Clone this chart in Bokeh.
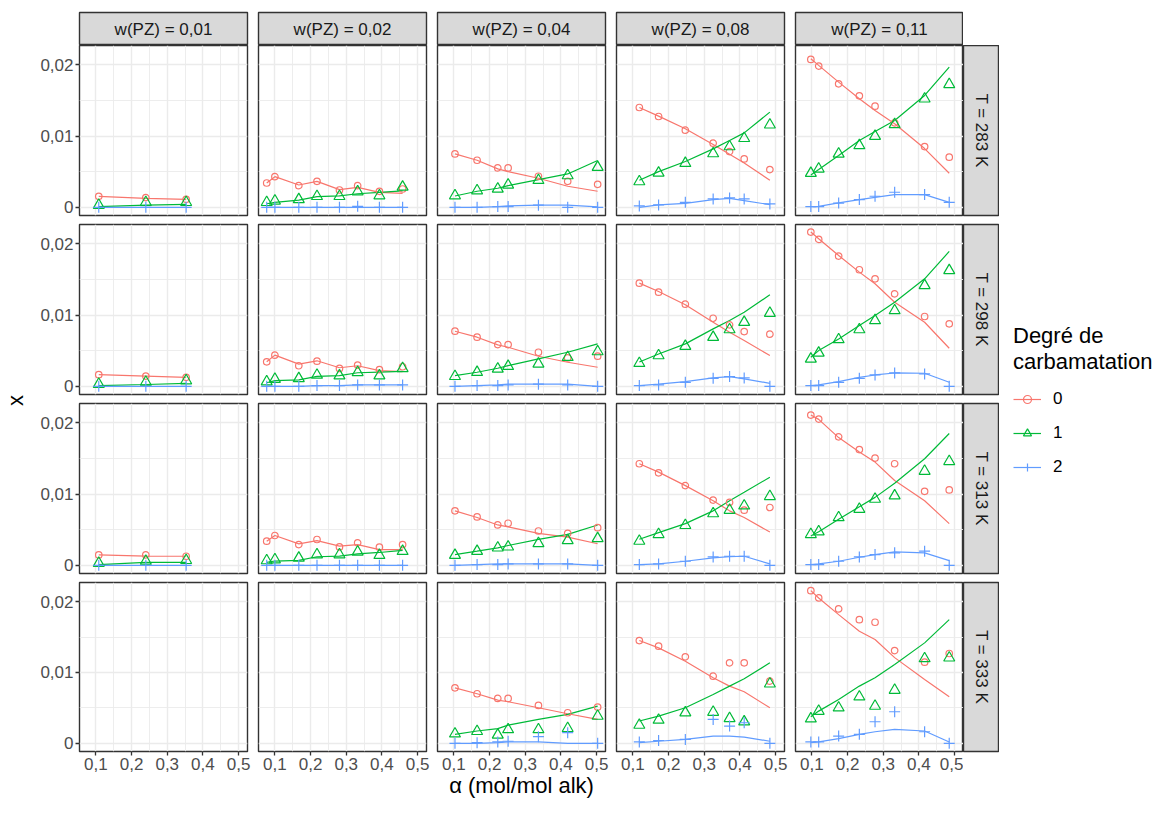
import math
from bokeh.plotting import figure
from bokeh.models import (Range1d, FixedTicker, CustomJSTickFormatter, Label, Legend,
                          LegendItem, LinearAxis, Grid, Spacer)
from bokeh.layouts import row, column
from bokeh.embed import file_html
from bokeh.resources import INLINE

# ---------------- data ----------------
w_labels = ["w(PZ) = 0,01", "w(PZ) = 0,02", "w(PZ) = 0,04", "w(PZ) = 0,08", "w(PZ) = 0,11"]
T_labels = ["T = 283 K", "T = 298 K", "T = 313 K", "T = 333 K"]
degree_labels = ["0", "1", "2"]
x_ticks = [0.1, 0.2, 0.3, 0.4, 0.5]
x_minor = [0.15, 0.25, 0.35, 0.45]
y_ticks = [0.0, 0.01, 0.02]
y_minor = [0.005, 0.015]

# loading alpha (mol/mol alk) for each w(PZ) column
alpha_001 = [0.108, 0.240, 0.353]
alpha_002 = [0.077, 0.100, 0.167, 0.218, 0.281, 0.332, 0.393, 0.458]
alpha_004 = [0.103, 0.165, 0.223, 0.252, 0.337, 0.419, 0.503]
alpha_008 = [0.118, 0.172, 0.247, 0.325, 0.371, 0.412, 0.484]
alpha_011 = [0.097, 0.119, 0.175, 0.233, 0.277, 0.332, 0.416, 0.485]

# obsN = measured mole fraction, modN = model, N = degree of carbamation
T283_w001 = dict(
    obs0=[0.00154, 0.00136, 0.00112], obs1=[0.0003, 0.0007, 0.0007], obs2=[0.0, 0.0, 0.0],
    mod0=[0.00154, 0.00126, 0.00112], mod1=[0.0001, 0.0003, 0.0004], mod2=[0.0, 0.0, 0.0])
T283_w002 = dict(
    obs0=[0.00341, 0.0043, 0.00304, 0.00364, 0.00243, 0.00304, 0.00224, 0.00257],
    obs1=[0.0007, 0.0009, 0.0011, 0.00154, 0.00154, 0.0022, 0.00164, 0.00285],
    obs2=[0.0, 0.0, 0.0, 0.0, 0.0, 0.00014, 0.0, 0.0],
    mod0=[0.00341, 0.0043, 0.00313, 0.00364, 0.00248, 0.0028, 0.0021, 0.00196],
    mod1=[0.0005, 0.0007, 0.001, 0.0015, 0.0016, 0.0019, 0.0021, 0.0023],
    mod2=[0.0, 0.0, 0.0, 0.0, 0.0, 0.0, 0.0, 0.0])
T283_w004 = dict(
    obs0=[0.00749, 0.0066, 0.00553, 0.00553, 0.00436, 0.00365, 0.00323],
    obs1=[0.00164, 0.00234, 0.00258, 0.00314, 0.00379, 0.00445, 0.00562],
    obs2=[0.0, 0.0, 0.0001, 0.0001, 0.0003, 0.0, 0.0],
    mod0=[0.00749, 0.0066, 0.00539, 0.00501, 0.00408, 0.00295, 0.00225],
    mod1=[0.00159, 0.00225, 0.00267, 0.00304, 0.00389, 0.00468, 0.00656],
    mod2=[0.0, 0.0, 0.0001, 0.0002, 0.0003, 0.0003, 0.00005])
T283_w008 = dict(
    obs0=[0.0140, 0.01274, 0.01082, 0.00899, 0.00782, 0.00679, 0.00529],
    obs1=[0.00361, 0.00482, 0.00618, 0.00754, 0.00852, 0.00968, 0.01157],
    obs2=[0.0002, 0.00033, 0.0007, 0.00117, 0.00131, 0.00117, 0.00047],
    mod0=[0.0140, 0.01279, 0.01101, 0.0088, 0.00745, 0.00623, 0.00379],
    mod1=[0.0038, 0.00501, 0.00642, 0.0082, 0.00937, 0.01044, 0.01335],
    mod2=[0.0, 0.00033, 0.00056, 0.00108, 0.00126, 0.00094, 0.00037])
T283_w011 = dict(
    obs0=[0.02075, 0.01981, 0.01733, 0.01564, 0.01419, 0.01185, 0.00852, 0.00703],
    obs1=[0.00478, 0.00539, 0.00749, 0.00867, 0.00998, 0.01162, 0.01522, 0.01724],
    obs2=[0.0001, 0.0001, 0.0006, 0.00108, 0.00155, 0.00211, 0.00178, 0.0007],
    mod0=[0.02084, 0.01991, 0.01756, 0.01522, 0.01358, 0.01171, 0.00824, 0.00478],
    mod1=[0.00454, 0.00529, 0.00726, 0.00937, 0.01063, 0.01218, 0.01569, 0.01967],
    mod2=[0.0001, 0.00014, 0.00061, 0.00108, 0.0014, 0.00178, 0.00178, 0.0007])

T298_w001 = dict(
    obs0=[0.00163, 0.00144, 0.00126], obs1=[0.0003, 0.0006, 0.0008], obs2=[0.0, 0.0, 0.0],
    mod0=[0.00163, 0.00144, 0.00126], mod1=[0.0001, 0.00025, 0.0004], mod2=[0.0, 0.0, 0.0])
T298_w002 = dict(
    obs0=[0.00344, 0.00437, 0.00288, 0.00353, 0.00251, 0.00298, 0.00233, 0.00274],
    obs1=[0.00065, 0.001, 0.0011, 0.00158, 0.00149, 0.00195, 0.00149, 0.00251],
    obs2=[0.0, 0.0, 0.0, 0.0001, 0.0001, 0.0002, 0.0002, 0.0002],
    mod0=[0.00344, 0.00437, 0.00312, 0.00358, 0.0026, 0.00288, 0.00219, 0.00205],
    mod1=[0.0005, 0.0008, 0.0009, 0.0014, 0.0015, 0.0019, 0.002, 0.0021],
    mod2=[0.0, 0.0, 0.0, 0.0001, 0.0001, 0.0002, 0.0002, 0.0002])
T298_w004 = dict(
    obs0=[0.00773, 0.00689, 0.00585, 0.00585, 0.00478, 0.00398, 0.00422],
    obs1=[0.0014, 0.00197, 0.00244, 0.00281, 0.00314, 0.00407, 0.00487],
    obs2=[0.0, 0.0001, 0.0001, 0.0002, 0.0003, 0.0002, 0.0],
    mod0=[0.00773, 0.00689, 0.00581, 0.00548, 0.00422, 0.00337, 0.00267],
    mod1=[0.0015, 0.00197, 0.00253, 0.0029, 0.00384, 0.00478, 0.00595],
    mod2=[0.0, 0.0001, 0.0002, 0.0003, 0.0003, 0.0003, 0.0])
T298_w008 = dict(
    obs0=[0.01447, 0.01321, 0.01152, 0.00955, 0.00862, 0.00768, 0.00731],
    obs1=[0.00323, 0.00431, 0.00562, 0.00689, 0.00796, 0.00899, 0.01026],
    obs2=[0.0001, 0.0002, 0.00056, 0.00112, 0.00136, 0.00117, 0.0],
    mod0=[0.01447, 0.0133, 0.01143, 0.00899, 0.00759, 0.00642, 0.00431],
    mod1=[0.0034, 0.00454, 0.00595, 0.00806, 0.00923, 0.0104, 0.01283],
    mod2=[0.0001, 0.0003, 0.00066, 0.00117, 0.00136, 0.00103, 0.00042])
T298_w011 = dict(
    obs0=[0.02164, 0.02061, 0.01827, 0.01635, 0.01508, 0.01297, 0.00979, 0.00876],
    obs1=[0.00384, 0.00468, 0.00656, 0.00796, 0.00923, 0.01063, 0.01415, 0.01625],
    obs2=[0.0001, 0.0001, 0.00056, 0.00112, 0.00159, 0.00187, 0.00173, 0.0],
    mod0=[0.02164, 0.0207, 0.01836, 0.01602, 0.01438, 0.0118, 0.00899, 0.00534],
    mod1=[0.00407, 0.00501, 0.00665, 0.00852, 0.00993, 0.0118, 0.01508, 0.01892],
    mod2=[0.0001, 0.0002, 0.00066, 0.00126, 0.00159, 0.00187, 0.00183, 0.00056])

T313_w001 = dict(
    obs0=[0.00146, 0.00146, 0.00127], obs1=[0.0003, 0.0006, 0.0007], obs2=[0.0, 0.0, 0.0],
    mod0=[0.00146, 0.0013, 0.00127], mod1=[0.0001, 0.0004, 0.0004], mod2=[0.0, 0.0, 0.0])
T313_w002 = dict(
    obs0=[0.00338, 0.00418, 0.00291, 0.00362, 0.00258, 0.00315, 0.00254, 0.00291],
    obs1=[0.00066, 0.0008, 0.00103, 0.0015, 0.0015, 0.00188, 0.00141, 0.00197],
    obs2=[0.0, 0.0, 0.0, 0.0, 0.0, 0.0, 0.0, 0.0],
    mod0=[0.00338, 0.00418, 0.003, 0.00347, 0.00268, 0.00291, 0.00221, 0.00221],
    mod1=[0.0004, 0.0006, 0.0007, 0.0012, 0.0013, 0.0016, 0.0018, 0.0021],
    mod2=[0.0, 0.0, 0.0, 0.0, 0.0, 0.0, 0.0, 0.0])
T313_w004 = dict(
    obs0=[0.00764, 0.00679, 0.00566, 0.0059, 0.00481, 0.00448, 0.00528],
    obs1=[0.00142, 0.00198, 0.00245, 0.00259, 0.00307, 0.00349, 0.00377],
    obs2=[0.0, 0.0001, 0.0001, 0.0002, 0.0002, 0.0002, 0.0],
    mod0=[0.00764, 0.0067, 0.00566, 0.00538, 0.00448, 0.00396, 0.00302],
    mod1=[0.00151, 0.00198, 0.00245, 0.00278, 0.00363, 0.00434, 0.00566],
    mod2=[0.0, 0.0001, 0.0002, 0.0002, 0.0002, 0.0002, 0.0])
T313_w008 = dict(
    obs0=[0.01425, 0.01297, 0.01118, 0.00915, 0.00882, 0.00774, 0.00811],
    obs1=[0.0034, 0.00434, 0.00561, 0.00726, 0.00774, 0.00835, 0.00967],
    obs2=[0.0001, 0.0002, 0.00057, 0.00118, 0.00127, 0.00127, 0.0],
    mod0=[0.01425, 0.01307, 0.01118, 0.00906, 0.00764, 0.0067, 0.00467],
    mod1=[0.00365, 0.00458, 0.00585, 0.00764, 0.00906, 0.01024, 0.01236],
    mod2=[0.0001, 0.0002, 0.00057, 0.00104, 0.00123, 0.00127, 0.0002])
T313_w011 = dict(
    obs0=[0.02108, 0.02052, 0.01802, 0.01623, 0.01505, 0.01425, 0.01038, 0.01057],
    obs1=[0.00434, 0.00472, 0.0067, 0.00788, 0.00929, 0.00976, 0.01321, 0.01458],
    obs2=[0.0001, 0.0001, 0.00057, 0.00118, 0.00151, 0.00175, 0.00198, 0.0],
    mod0=[0.02108, 0.02047, 0.01792, 0.0159, 0.01448, 0.01189, 0.00906, 0.00585],
    mod1=[0.0041, 0.00472, 0.00646, 0.00821, 0.00953, 0.01151, 0.01495, 0.01849],
    mod2=[0.0001, 0.0002, 0.00057, 0.00113, 0.00151, 0.00189, 0.00175, 0.00066])

T333_w004 = dict(
    obs0=[0.00784, 0.007, 0.00634, 0.00634, 0.00535, 0.00432, 0.00512],
    obs1=[0.00135, 0.0017, 0.00118, 0.00195, 0.00195, 0.00212, 0.00385],
    obs2=[0.0, 0.0001, 0.0002, 0.0003, 0.00094, 0.0015, 0.0],
    mod0=[0.00784, 0.007, 0.0061, 0.00587, 0.00502, 0.00418, 0.00338],
    mod1=[0.00127, 0.00174, 0.00207, 0.00258, 0.00338, 0.00408, 0.00526],
    mod2=[0.0, 0.0, 0.0001, 0.0002, 0.0002, 0.0, 0.0])
T333_w008 = dict(
    obs0=[0.01451, 0.01371, 0.01221, 0.00948, 0.01136, 0.01136, 0.00878],
    obs1=[0.00258, 0.00329, 0.00432, 0.00441, 0.00352, 0.00305, 0.0084],
    obs2=[0.0002, 0.0004, 0.00056, 0.00338, 0.00244, 0.00291, 0.0],
    mod0=[0.01451, 0.01347, 0.01159, 0.00925, 0.00808, 0.00728, 0.00502],
    mod1=[0.00315, 0.00385, 0.00502, 0.0069, 0.00808, 0.00911, 0.01136],
    mod2=[0.0001, 0.0003, 0.00056, 0.00103, 0.00103, 0.00089, 0.0003])
T333_w011 = dict(
    obs0=[0.02155, 0.02052, 0.01897, 0.01746, 0.01709, 0.0131, 0.01146, 0.01268],
    obs1=[0.00347, 0.00455, 0.00502, 0.00657, 0.00526, 0.00751, 0.01197, 0.01207],
    obs2=[0.0002, 0.0002, 0.00103, 0.00127, 0.00305, 0.00446, 0.00164, 0.0],
    mod0=[0.02155, 0.02052, 0.01817, 0.01582, 0.01465, 0.0121, 0.00901, 0.00657],
    mod1=[0.00376, 0.00455, 0.0062, 0.00808, 0.00925, 0.01113, 0.01418, 0.01746],
    mod2=[0.0001, 0.0002, 0.00066, 0.00127, 0.00164, 0.00197, 0.00174, 0.0002])

alphas = [alpha_001, alpha_002, alpha_004, alpha_008, alpha_011]
panel_data = [
    [T283_w001, T283_w002, T283_w004, T283_w008, T283_w011],
    [T298_w001, T298_w002, T298_w004, T298_w008, T298_w011],
    [T313_w001, T313_w002, T313_w004, T313_w008, T313_w011],
    [None, None, T333_w004, T333_w008, T333_w011],
]

# ---------------- style / layout ----------------
FONT = "Liberation Sans"
COLORS = ["#F8766D", "#00BA38", "#619CFF"]
MARKERS = ["circle", "triangle", "cross"]
SIZES = [6.5, 11, 11]
GRID = "#EBEBEB"
DARK = "#333333"
STRIP = "#D9D9D9"

FW, FH = 168, 170
YLAB_W = 30
col_mbl = [49, 6, 6, 6, 6]
col_mbr = [5, 5, 5, 5, 0]
row_mbt = [0, 5, 5, 5]
row_mbb = [4, 4, 4, 48]
TOP_H, TOP_MBT = 45, 12
STRIP_W = 36
LEG_W = 157
TOTAL_H = TOP_H + sum(row_mbt[i] + FH + row_mbb[i] for i in range(4))
XR = (0.054, 0.525)
YR = (-0.00115, 0.0227)

x_fmt = "return tick.toFixed(1).replace('.', ',');"
y_fmt = "return Math.abs(tick) < 1e-12 ? '0' : tick.toFixed(2).replace('.', ',');"


def base_fig(w, h, mbl, mbr, mbt, mbb, **kw):
    return figure(width=w, height=h, min_border_left=mbl, min_border_right=mbr,
                  min_border_top=mbt, min_border_bottom=mbb,
                  x_axis_type=None, y_axis_type=None, toolbar_location=None,
                  output_backend="svg", border_fill_color="white", **kw)


def make_panel(ri, ci):
    mbl, mbr, mbt, mbb = col_mbl[ci], col_mbr[ci], row_mbt[ri], row_mbb[ri]
    p = base_fig(mbl + FW + mbr, mbt + FH + mbb, mbl, mbr, mbt, mbb,
                 x_range=Range1d(*XR), y_range=Range1d(*YR),
                 background_fill_color="white", outline_line_color=DARK,
                 outline_line_width=1.4)
    xt = FixedTicker(ticks=x_ticks, minor_ticks=x_minor)
    yt = FixedTicker(ticks=y_ticks, minor_ticks=y_minor)
    for dim, t in ((0, xt), (1, yt)):
        p.add_layout(Grid(dimension=dim, ticker=t, grid_line_color=GRID, grid_line_width=1.4,
                          minor_grid_line_color=GRID, minor_grid_line_width=0.9))
    axis_style = dict(axis_line_color=None, major_tick_line_color=DARK, major_tick_line_width=1.3,
                      major_tick_in=0, major_tick_out=4, minor_tick_line_color=None,
                      major_label_text_font=FONT, major_label_text_font_size="17px",
                      major_label_text_color="#4D4D4D", major_label_standoff=2)
    if ri == 3:
        ax = LinearAxis(ticker=xt, formatter=CustomJSTickFormatter(code=x_fmt), **axis_style)
        if ci == 2:
            ax.axis_label = "α (mol/mol alk)"
            ax.axis_label_text_font = FONT
            ax.axis_label_text_font_size = "22px"
            ax.axis_label_text_font_style = "normal"
            ax.axis_label_text_color = "black"
            ax.axis_label_standoff = 0
        p.add_layout(ax, "below")
    if ci == 0:
        ay = LinearAxis(ticker=yt, formatter=CustomJSTickFormatter(code=y_fmt), **axis_style)
        p.add_layout(ay, "left")
    data = panel_data[ri][ci]
    if data is not None:
        a = alphas[ci]
        for d in range(3):
            p.line(a, data[f"mod{d}"], line_color=COLORS[d], line_width=1.2)
        for d in range(3):
            p.scatter(a, data[f"obs{d}"], marker=MARKERS[d], size=SIZES[d],
                      fill_color=None, line_color=COLORS[d], line_width=1.2)
    return p


def top_strip(ci):
    mbl, mbr = col_mbl[ci], col_mbr[ci]
    s = base_fig(mbl + FW + mbr, TOP_H, mbl, mbr, TOP_MBT, 0,
                 x_range=Range1d(0, 1), y_range=Range1d(0, 1),
                 background_fill_color=STRIP, outline_line_color=DARK, outline_line_width=1.4)
    s.add_layout(Label(x=0.5, y=0.5, text=w_labels[ci], text_align="center",
                       text_baseline="middle", text_font=FONT, text_font_size="17px",
                       text_color="#1A1A1A"))
    return s


def right_strip(ri):
    mbt, mbb = row_mbt[ri], row_mbb[ri]
    s = base_fig(STRIP_W, mbt + FH + mbb, 0, 0, mbt, mbb,
                 x_range=Range1d(0, 1), y_range=Range1d(0, 1),
                 background_fill_color=STRIP, outline_line_color=DARK, outline_line_width=1.4)
    s.add_layout(Label(x=0.5, y=0.5, text=T_labels[ri], text_align="center",
                       text_baseline="middle", angle=-math.pi / 2, text_font=FONT,
                       text_font_size="17px", text_color="#1A1A1A"))
    return s


rows = [row(*[top_strip(ci) for ci in range(5)], Spacer(width=STRIP_W, height=TOP_H))]
for ri in range(4):
    rows.append(row(*[make_panel(ri, ci) for ci in range(5)], right_strip(ri)))
grid = column(*rows)

# y-axis title
ylab = base_fig(YLAB_W, TOTAL_H, 0, 0, 0, 0, x_range=Range1d(0, 1), y_range=Range1d(0, 1),
                background_fill_color="white", outline_line_color=None)
ylab.add_layout(Label(x=0.5, y=0.5, text="x", text_align="center", text_baseline="middle",
                      angle=math.pi / 2, text_font=FONT, text_font_size="22px",
                      text_color="black"))

# legend (proxy renderers hold one real point each, kept outside the visible range)
lg = base_fig(LEG_W, TOTAL_H, 0, 0, 0, 0, x_range=Range1d(10, 11), y_range=Range1d(10, 11),
              background_fill_color="white", outline_line_color=None)
items = []
for d in range(3):
    px = alpha_011[:1]
    py = T283_w011[f"obs{d}"][:1]
    r1 = lg.line(x=px * 2, y=py * 2, line_color=COLORS[d], line_width=1.2)
    r2 = lg.scatter(x=px, y=py, marker=MARKERS[d], size=SIZES[d], fill_color=None,
                    line_color=COLORS[d], line_width=1.2)
    items.append(LegendItem(label=degree_labels[d], renderers=[r1, r2]))
legend = Legend(items=items, location="left", title="Degré de\ncarbamatation",
                title_text_font=FONT, title_text_font_size="22px", title_text_font_style="normal",
                title_text_color="black", label_text_font=FONT, label_text_font_size="17px",
                label_text_color="black", glyph_width=28, glyph_height=20, label_height=20,
                label_standoff=12, spacing=14, padding=0, margin=14, title_standoff=14,
                border_line_color=None, background_fill_alpha=0)
lg.add_layout(legend)

layout = row(ylab, grid, lg)
open("out.html", "w").write(file_html(layout, INLINE))
